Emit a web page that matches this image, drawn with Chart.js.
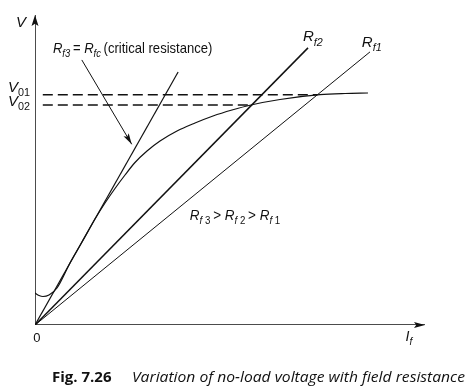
<!DOCTYPE html>
<html><head><meta charset="utf-8">
<script src="https://cdn.jsdelivr.net/npm/chart.js@4"></script>
<style>html,body{margin:0;padding:0;background:#fff}#wrap{width:470px;height:388px;position:relative}</style>
</head><body><div id="wrap"><canvas id="c"></canvas></div>
<script>
// Magnetisation (open-circuit) characteristic: field current vs no-load voltage
const magIf = [0, 1.03, 2.05, 3.59, 5.64, 8.97, 12.05, 15.38, 17.95, 20.51, 23.08, 25.64, 28.72, 32.05, 36.41, 41.03, 45.64, 50.51, 55.38, 62.82, 73.08, 79.49, 85.38];
const magV  = [10.32, 9.52, 9.19, 9.68, 11.94, 20.0, 26.77, 34.19, 39.35, 44.03, 48.39, 52.42, 56.13, 59.35, 62.58, 65.16, 67.42, 69.35, 70.97, 72.74, 74.29, 74.68, 74.84];
// Field resistance lines
const rf3If = [0, 36.7], rf3V = [0, 81.6];
const rf2If = [0, 70.0], rf2V = [0, 89.4];
const rf1If = [0, 85.9], rf1V = [0, 88.1];
// No-load voltages
const v01If = [2, 72.4], v01V = [74.3, 74.3];
const v02If = [2, 55.6], v02V = [71.0, 71.0];
// Axes
const axisMax = 100;

function pts(xs, ys){ return xs.map((x,i)=>({x:x, y:ys[i]})); }
const base = {showLine:true, pointRadius:0, borderColor:'#111', fill:false};

const SANS = '"Liberation Sans", Arial, sans-serif';
function rich(ctx, x, y, segs, size, hs){
  hs = hs || 1;
  ctx.save(); ctx.translate(x, y); ctx.scale(hs, 1);
  let cx = 0;
  for (const s of segs){
    const sz = s.sub ? size*0.72 : size;
    ctx.font = (s.i ? 'italic ' : '') + sz + 'px ' + SANS;
    ctx.fillText(s.t, cx, (s.sub ? size*0.3 : 0));
    cx += ctx.measureText(s.t).width + (s.gap||0);
  }
  ctx.restore();
}
function arrowHead(ctx, x, y, ang, len, w){
  ctx.save(); ctx.translate(x,y); ctx.rotate(ang);
  ctx.beginPath(); ctx.moveTo(0,0); ctx.lineTo(-len, -w/2); ctx.lineTo(-len*0.8,0); ctx.lineTo(-len, w/2); ctx.closePath();
  ctx.fillStyle='#111'; ctx.fill(); ctx.restore();
}

const decor = {
  id:'decor',
  afterDatasetsDraw(chart){
    const ctx = chart.ctx, xs = chart.scales.x, ys = chart.scales.y;
    const X = v=>xs.getPixelForValue(v), Y = v=>ys.getPixelForValue(v);
    ctx.save();
    ctx.fillStyle = '#111'; ctx.textBaseline = 'alphabetic';
    // axis arrows
    arrowHead(ctx, X(0), Y(axisMax), -Math.PI/2, 11, 7);
    arrowHead(ctx, X(axisMax), Y(0), 0, 11, 6);
    // pointer from label to critical line
    const ax0 = X(12), ay0 = Y(85.5), ax1 = X(24.8), ay1 = Y(58.3);
    ctx.strokeStyle = '#111'; ctx.lineWidth = 1;
    ctx.beginPath(); ctx.moveTo(ax0, ay0); ctx.lineTo(ax1, ay1); ctx.stroke();
    arrowHead(ctx, ax1, ay1, Math.atan2(ay1-ay0, ax1-ax0), 11, 6);
    // texts
    rich(ctx, X(-4.9), Y(96.1), [{t:'V', i:true}], 15);
    rich(ctx, X(-6.9), Y(74.3)-3, [{t:'V', i:true},{t:'01', sub:true}], 15);
    rich(ctx, X(-6.9), Y(71.0)+1, [{t:'V', i:true},{t:'02', sub:true}], 15);
    ctx.font = '13px ' + SANS; ctx.textAlign='center';
    ctx.fillText('0', X(0.5), Y(0)+17);
    ctx.textAlign='left';
    rich(ctx, X(95), Y(0)+16, [{t:'I', i:true},{t:'f', i:true, sub:true}], 14);
    rich(ctx, X(4.6), Y(87.8), [{t:'R', i:true},{t:'f3', i:true, sub:true, gap:3},{t:'= '},{t:'R', i:true},{t:'fc', i:true, sub:true, gap:3},{t:'(critical resistance)'}], 14.5, 0.9);
    rich(ctx, X(68.7), Y(91.6), [{t:'R', i:true},{t:'f2', i:true, sub:true}], 15);
    rich(ctx, X(83.8), Y(89.7), [{t:'R', i:true},{t:'f1', i:true, sub:true}], 15);
    rich(ctx, X(39.7), Y(33.9), [{t:'R', i:true},{t:'f ', i:true, sub:true},{t:'3', sub:true, gap:3},{t:'> '},{t:'R', i:true},{t:'f ', i:true, sub:true},{t:'2', sub:true, gap:3},{t:'> '},{t:'R', i:true},{t:'f ', i:true, sub:true},{t:'1', sub:true}], 14.5, 0.93);
    // caption
    ctx.font = 'bold 15px "Open Sans", sans-serif';
    ctx.fillText('Fig. 7.26', 52, 382);
    ctx.font = 'italic 15px "Open Sans", sans-serif';
    const cap = 'Variation of no-load voltage with field resistance';
    const w = ctx.measureText(cap).width;
    ctx.save(); ctx.translate(132, 382); ctx.scale(333/w, 1); ctx.fillText(cap, 0, 0); ctx.restore();
    ctx.restore();
  }
};

new Chart(document.getElementById('c'), {
  type:'scatter',
  data:{datasets:[
    {...base, label:'V axis', data:pts([0,0],[0,axisMax]), borderWidth:1.5},
    {...base, label:'If axis', data:pts([0,axisMax],[0,0]), borderWidth:1.5},
    {...base, label:'OCC', data:pts(magIf, magV), borderWidth:1.2, cubicInterpolationMode:'monotone'},
    {...base, label:'Rf3', data:pts(rf3If, rf3V), borderWidth:1.2},
    {...base, label:'Rf2', data:pts(rf2If, rf2V), borderWidth:1.5},
    {...base, label:'Rf1', data:pts(rf1If, rf1V), borderWidth:1},
    {...base, label:'V01', data:pts(v01If, v01V), borderWidth:1.5, borderDash:[10,5]},
    {...base, label:'V02', data:pts(v02If, v02V), borderWidth:1.5, borderDash:[10,5]}
  ]},
  options:{
    responsive:true, maintainAspectRatio:false, animation:false,
    layout:{padding:{left:35, right:45, top:15, bottom:63}},
    plugins:{legend:{display:false}, tooltip:{enabled:false}},
    scales:{
      x:{type:'linear', min:0, max:axisMax, display:false},
      y:{type:'linear', min:0, max:axisMax, display:false}
    }
  },
  plugins:[decor]
});
</script></body></html>
